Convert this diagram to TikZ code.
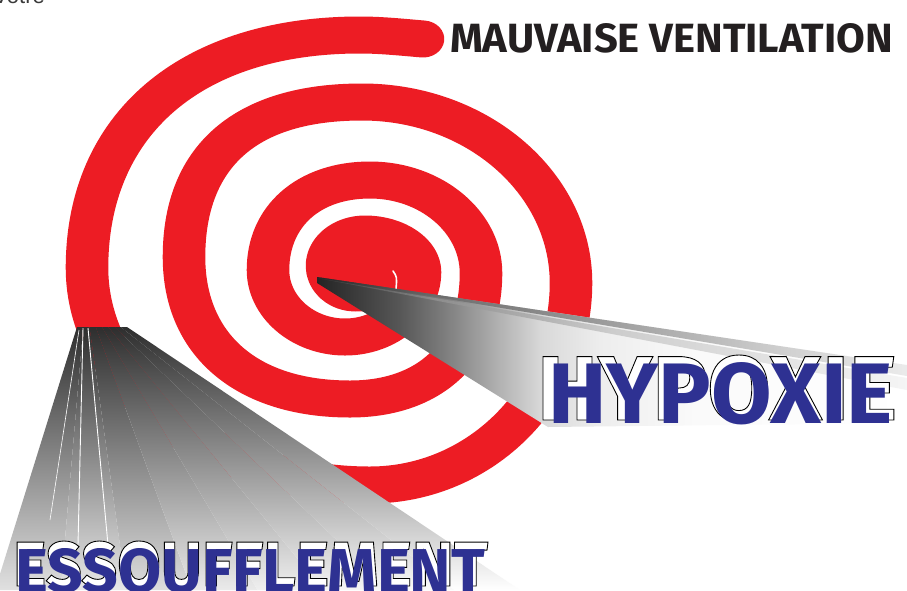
\documentclass[tikz,border=0pt]{standalone}
\usepackage{fontspec}
\setmainfont{Liberation Sans}
\newfontfamily\headfont{Fira Sans}
\usepackage{graphicx}

\definecolor{spiralred}{HTML}{ED1C24}
\definecolor{titleblue}{HTML}{2E3192}
\definecolor{inkdark}{HTML}{231F20}
\definecolor{inkgray}{HTML}{3A3A3A}

% fading of the narrow beam (left dark -> right white)
\pgfdeclarehorizontalshading{beamfade}{100bp}{color(0bp)=(black!86); color(25bp)=(black!86);
  color(32bp)=(black!66); color(36bp)=(black!50); color(40.5bp)=(black!30);
  color(44bp)=(black!15); color(49bp)=(black!7); color(57bp)=(black!2);
  color(75bp)=(white); color(100bp)=(white)}
\pgfdeclarehorizontalshading{beamstreak}{100bp}{color(0bp)=(black!86); color(25bp)=(black!86);
  color(35bp)=(black!58); color(50bp)=(black!38); color(65bp)=(black!18); color(75bp)=(black!8); color(100bp)=(black!8)}
\pgfdeclarehorizontalshading{beamstreaklight}{100bp}{color(0bp)=(black!80); color(25bp)=(black!80);
  color(35bp)=(black!45); color(50bp)=(black!20); color(75bp)=(black!4); color(100bp)=(black!4)}

% hollow lettering: white fill, thin black outline
\newcommand\hollowtext[1]{{\color{white}\special{pdf:literal direct 2 Tr 0.9 w 0 G}#1\special{pdf:literal direct 0 Tr}}}

\tikzset{
  spiralband/.style={draw=spiralred, line width=37pt, line cap=round, line join=round},
  label box/.style={anchor=north west, inner sep=0pt, outer sep=0pt},
}

\begin{document}
\begin{tikzpicture}[x=1pt,y=-1pt]
\useasboundingbox (0,0) rectangle (907,590);
\fill[white] (0,0) rectangle (907,590);

% heading fragment cut by the upper edge
\node[anchor=base west, inner sep=0pt, text=inkgray, font=\fontsize{22}{22}\selectfont] (fragment) at (-6.7,3.5) {Votre};

% red spiral, built from quarter arcs (wider horizontally than vertically)
\begin{scope}[x=0.869565pt, transform canvas={xscale=1.15}]
  \draw[spiralband] (423,39) .. controls (400,37) and (380,35) .. (360,35)
    .. controls (191,35) and (87,124) .. (87,268)
    .. controls (87,387) and (214,485) .. (370,485)
    .. controls (481,485) and (571,394) .. (571,283)
    .. controls (571,183) and (477,102) .. (362,102)
    .. controls (246,102) and (184,156) .. (184,257)
    .. controls (184,345) and (247,399) .. (350,399)
    .. controls (431,399) and (481,351) .. (481,273)
    .. controls (481,222) and (431,180) .. (370,180)
    .. controls (309,180) and (268,216) .. (268,270)
    .. controls (268,307) and (303,337) .. (345,337)
    .. controls (386,337) and (420,308) .. (420,272)
    .. controls (420,251) and (395,234) .. (365,234)
    .. controls (344,234) and (327,248) .. (327,266)
    .. controls (327,281) and (340,293) .. (355,293)
    .. controls (370,293) and (380,290) .. (383,286);
  \fill[spiralred] (372,264) ellipse [x radius=27pt, y radius=20pt];
\end{scope}
% end of the white gap in the core
\draw[white, line width=1.6pt, line cap=round] (393,271) .. controls (397,277) .. (396,289);

% wide beam falling to the lower left
\foreach \i/\g in {0/12,1/9,2/13,3/8,4/6,5/4,6/2,7/0} {
  \shade[top color=black!82, bottom color=black!\g]
    ({77+50*\i/8},327) -- ({77+50*(\i+1)/8},327) -- ({-5+525*(\i+1)/8},590) -- ({-5+525*\i/8},590) -- cycle;
}
\draw[white, line width=0.9pt] (83,328) -- (78,545);
\draw[white, line width=0.9pt] (88,328) -- (108,545);
\draw[white, line width=0.6pt] (79,330) -- (50,520);

% narrow beam from the core to the right
\shade[shading=beamfade] (317,277) -- (907,365) -- (907,423) -- (548,427) -- (317,283) -- cycle;
\shade[shading=beamstreak] (317,277) -- (907,365) -- (907,376) -- cycle;
\shade[shading=beamstreaklight] (317,278) -- (907,378) -- (907,390) -- cycle;

% labels
\node[label box, text=inkdark] (mauvaise) at (450,23)
  {\resizebox{443pt}{29pt}{\headfont\bfseries\fontsize{42}{42}\selectfont MAUVAISE VENTILATION}};

\node[label box] (hypoxieshadow) at (537,355)
  {\resizebox{360pt}{65pt}{\headfont\bfseries\fontsize{94}{94}\selectfont\hollowtext{HYPOXIE}}};
\node[label box, text=titleblue] (hypoxie) at (548,362)
  {\resizebox{345pt}{61pt}{\headfont\bfseries\fontsize{90}{90}\selectfont HYPOXIE}};

\node[label box] (essshadow) at (13,541)
  {\resizebox{475pt}{45pt}{\headfont\bfseries\fontsize{65}{65}\selectfont\hollowtext{ESSOUFFLEMENT}}};
\node[label box, text=titleblue] (essoufflement) at (15,548)
  {\resizebox{470pt}{44pt}{\headfont\bfseries\fontsize{64}{64}\selectfont ESSOUFFLEMENT}};
\end{tikzpicture}
\end{document}
